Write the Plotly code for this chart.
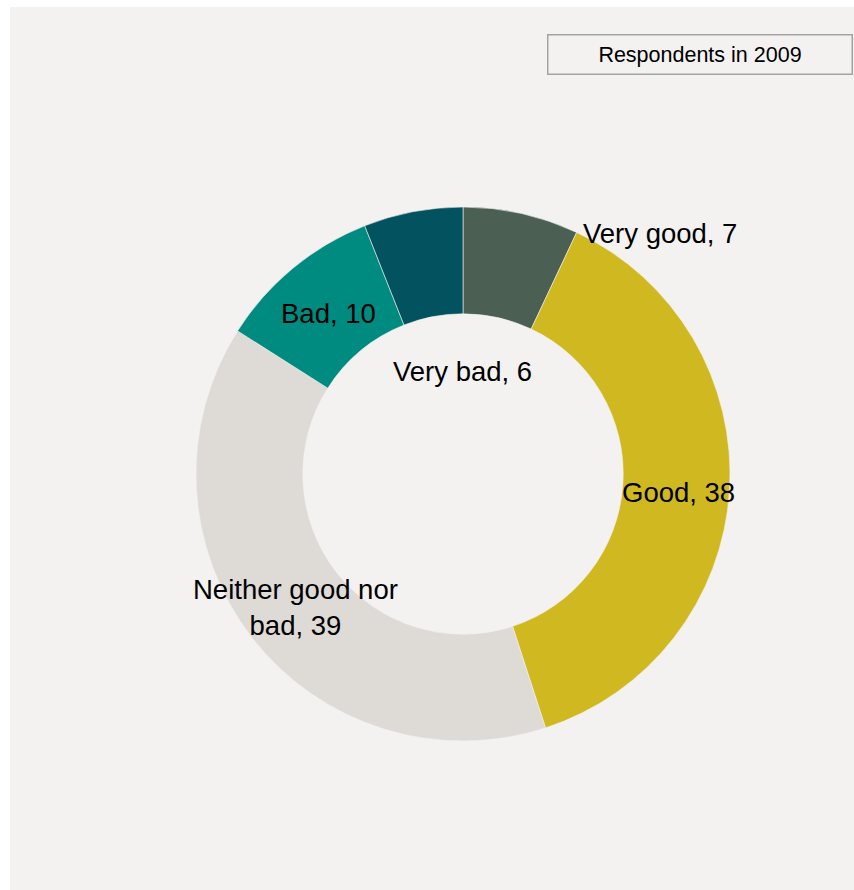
import plotly.graph_objects as go

# Survey answers, clockwise from the top
categories = ["Very good", "Good", "Neither good nor bad", "Bad", "Very bad"]
shares = [7, 38, 39, 10, 6]
slice_colors = ["#4b5f53", "#d0b820", "#dedad6", "#008b80", "#02525f"]
legend_title = "Respondents in 2009"

W, H = 854, 890
BG = "#f3f2f0"

# Ring geometry in pixels
cx, cy, r = 463, 474, 267

# Label anchor points (pixels from top-left) and line-wrapped label text
label_xy = [(660, 233), (678, 492), (295, 607), (328, 313), (462, 371)]
wrapped = {"Neither good nor bad": "Neither good nor<br>bad"}


def px_x(x):
    return x / W


def px_y(y):
    return 1 - y / H


fig = go.Figure()
fig.add_trace(go.Pie(
    labels=categories,
    values=shares,
    hole=0.6,
    sort=False,
    direction="clockwise",
    rotation=0,
    textinfo="none",
    marker=dict(colors=slice_colors, line=dict(color=BG, width=0.6)),
    domain=dict(x=[px_x(cx - r), px_x(cx + r)], y=[px_y(cy + r), px_y(cy - r)]),
    showlegend=False,
    hoverinfo="label+value",
))

# Light panel behind the chart
fig.add_shape(type="rect", xref="paper", yref="paper",
              x0=px_x(10), x1=px_x(W + 2), y0=px_y(H + 2), y1=px_y(7),
              fillcolor=BG, line=dict(width=0), layer="below")

for name, val, (x, y) in zip(categories, shares, label_xy):
    fig.add_annotation(
        x=px_x(x), y=px_y(y), xref="paper", yref="paper",
        text=f"{wrapped.get(name, name)}, {val}",
        showarrow=False, xanchor="center", yanchor="middle",
        font=dict(family="Liberation Sans, Arial, sans-serif", size=27.5, color="#000000"),
        align="center",
    )

# Boxed series title in the top-right corner
fig.add_annotation(
    x=px_x(547), y=px_y(34), xref="paper", yref="paper",
    xanchor="left", yanchor="top",
    text=legend_title, showarrow=False,
    width=301, height=36,
    bgcolor=BG, bordercolor="#a3a3a3", borderwidth=1.5, borderpad=1,
    font=dict(family="Liberation Sans, Arial, sans-serif", size=21.5, color="#000000"),
)

fig.update_layout(
    width=W, height=H,
    margin=dict(l=0, r=0, t=0, b=0),
    paper_bgcolor="#ffffff",
    plot_bgcolor="#ffffff",
)

fig.write_html("out.html")
